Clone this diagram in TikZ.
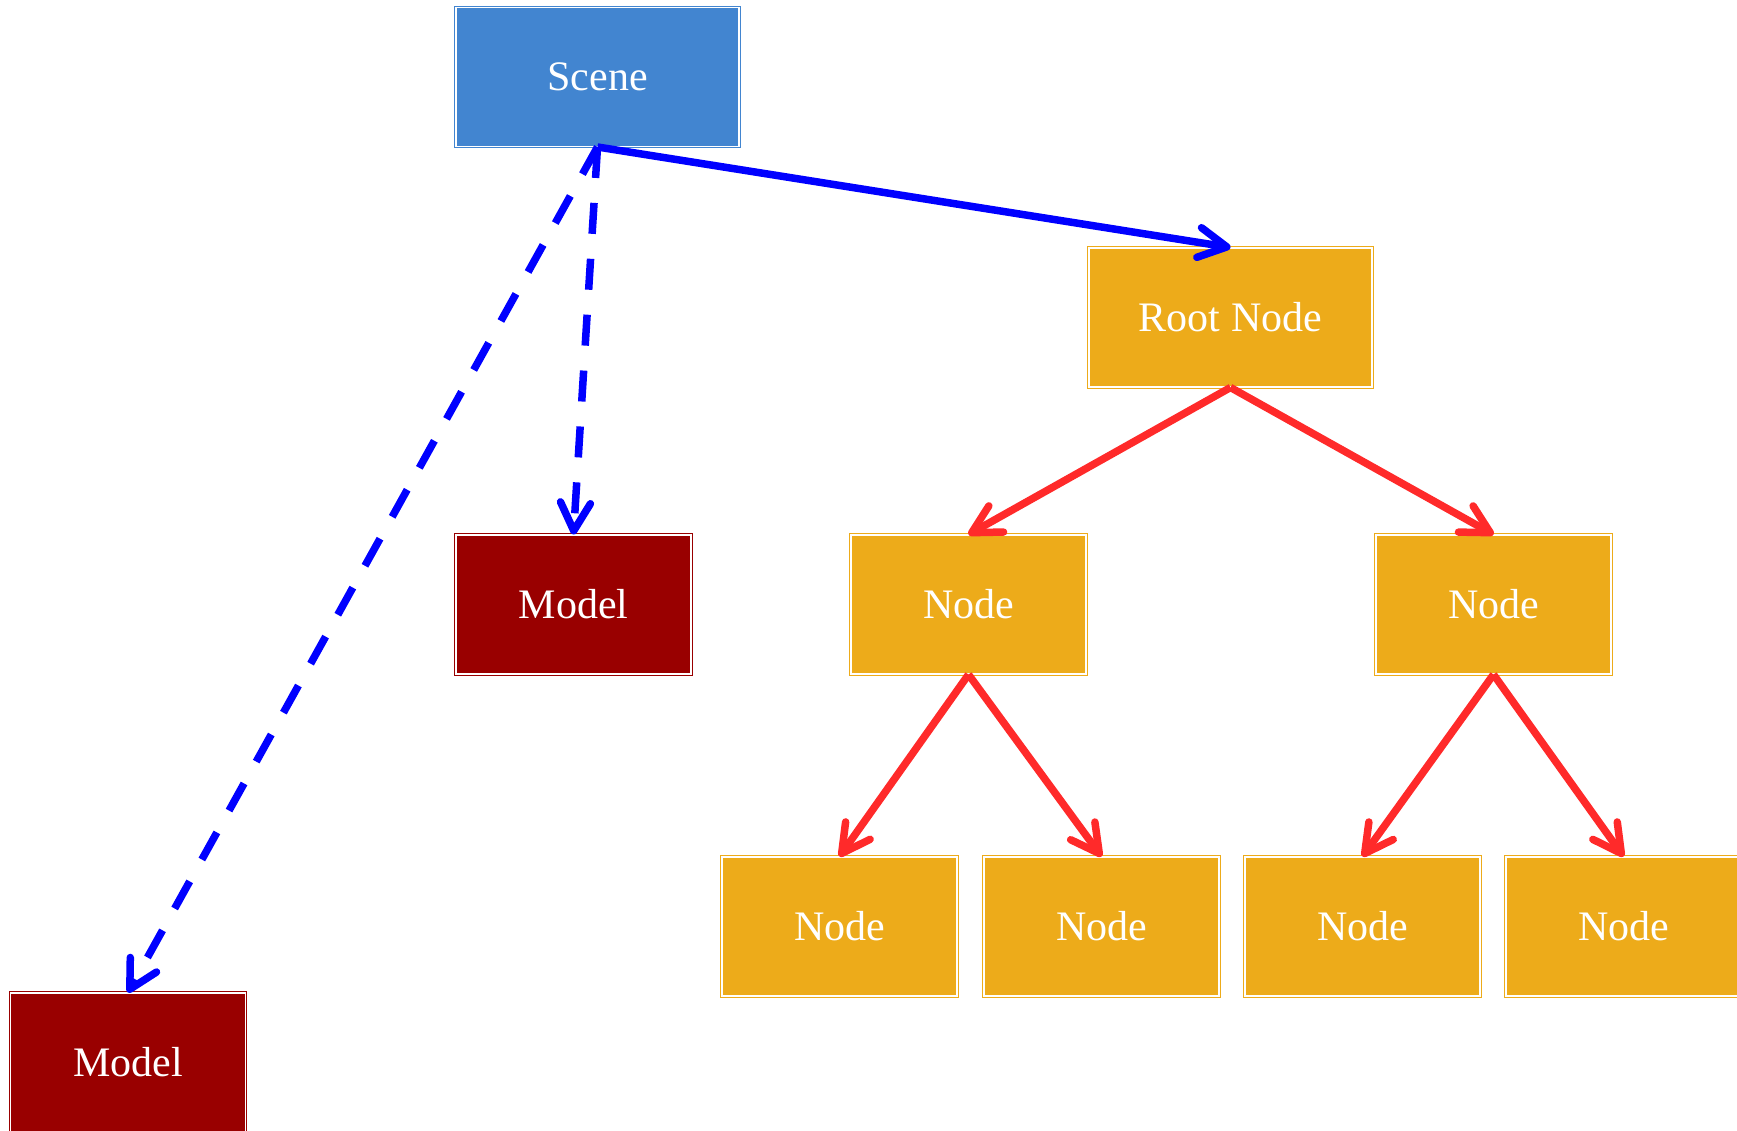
\documentclass[tikz,border=0pt]{standalone}
\usepackage{fontspec}
\setmainfont{Liberation Serif}
\usetikzlibrary{arrows.meta}
\definecolor{scenecol}{RGB}{66,133,208}
\definecolor{modelcol}{RGB}{153,0,0}
\definecolor{nodecol}{RGB}{237,171,26}
\definecolor{redarr}{RGB}{255,42,42}
\definecolor{bluearr}{RGB}{0,0,255}
\begin{document}
\begin{tikzpicture}[x=1pt,y=-1pt,
  box/.style={rectangle, minimum width=235pt, minimum height=139pt, inner sep=0pt,
    line width=1pt, double=white, double distance=1.5pt, text=white,
    font=\fontsize{42}{48}\selectfont},
  scenebox/.style={box, draw=scenecol, fill=scenecol, minimum width=283pt},
  modelbox/.style={box, draw=modelcol, fill=modelcol},
  nodebox/.style={box, draw=nodecol, fill=nodecol},
  rootbox/.style={nodebox, minimum width=283pt},
  tip/.style={-{Straight Barb[length=28pt,width=30pt,line cap=round,line join=round]}},
  blueline/.style={tip, draw=bluearr, line width=7.5pt},
  bluedash/.style={blueline, dash pattern=on 31pt off 25pt},
  redline/.style={tip, draw=redarr, line width=7.5pt}
]
\useasboundingbox (0,0) rectangle (1737,1131);
\node[scenebox] (scene) at (597.5,77) {Scene};
\node[rootbox] (root) at (1230.5,317.5) {Root Node};
\node[modelbox] (m1) at (573.5,604.5) {Model};
\node[modelbox] (m2) at (128,1062.5) {Model};
\node[nodebox] (n1) at (968.5,604.5) {Node};
\node[nodebox] (n2) at (1493.5,604.5) {Node};
\node[nodebox] (n11) at (839.5,926.5) {Node};
\node[nodebox] (n12) at (1101.5,926.5) {Node};
\node[nodebox] (n21) at (1362.5,926.5) {Node};
\node[nodebox] (n22) at (1623.5,926.5) {Node};

\draw[blueline] (scene.south) -- (root.north);
\draw[bluedash] (scene.south) -- (m1.north);
\draw[bluedash] (scene.south) -- (m2.north);
\draw[redline] (root.south) -- (n1.north);
\draw[redline] (root.south) -- (n2.north);
\draw[redline] (n1.south) -- (n11.north);
\draw[redline] (n1.south) -- (n12.north);
\draw[redline] (n2.south) -- (n21.north);
\draw[redline] (n2.south) -- (n22.north);
\end{tikzpicture}
\end{document}
